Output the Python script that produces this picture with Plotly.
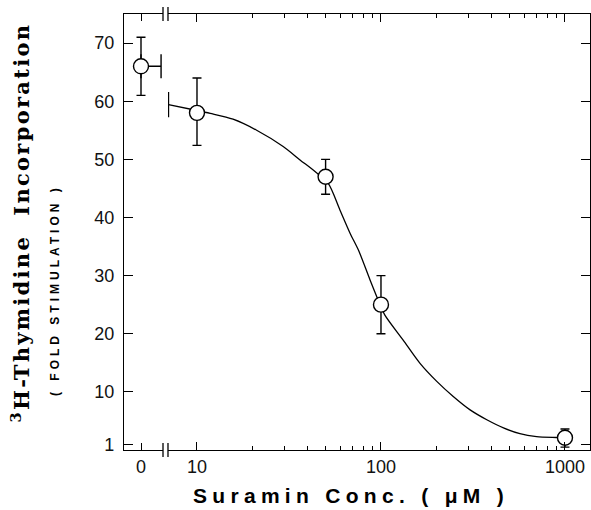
import plotly.graph_objects as go

# ---------------- data ----------------
zero_x = [0]
zero_y = [66]
zero_err = [5]
zero_xerr_plus = [1.18]

conc = [10, 50, 100, 1000]
incorp = [58, 47, 25, 2.1]
err_plus = [6, 3, 5, 1.5]
err_minus = [5.6, 3, 5, 1.6]

curve_x = [7, 10, 11.8, 15.7, 21.1, 29.4, 36.3, 43.8, 51.6, 59.8, 67.9, 75.4, 87.1,
           98.9, 105, 132, 163, 201, 247, 305, 376, 463, 569, 701, 897, 1000]
curve_y = [59.4, 58.4, 57.9, 56.9, 55.0, 52.2, 49.9, 47.9, 45.9, 41.3, 37.3, 34.4, 29.3,
           25.0, 23.2, 18.9, 14.9, 11.8, 9.2, 6.9, 5.2, 3.8, 2.8, 2.3, 2.15, 2.1]

y_ticks = [1, 10, 20, 30, 40, 50, 60, 70]
y_labels = ["1", "10", "20", "30", "40", "50", "60", "70"]
x_zero_ticks = [0]
x_zero_labels = ["0"]
x_major = [10, 100, 1000]
x_major_labels = ["10", "100", "1000"]
x_minor = [20, 30, 40, 50, 60, 70, 80, 90, 200, 300, 400, 500, 600, 700, 800, 900]

# ---------------- figure ----------------
BLK = "black"
tickfont = dict(family="Liberation Sans, Arial, sans-serif", size=18, color="#111")
seg1_end = 0.0837
seg2_start = 0.0944

fig = go.Figure()

# fitted curve
fig.add_trace(go.Scatter(
    x=curve_x, y=curve_y, xaxis="x2", yaxis="y2", mode="lines",
    line=dict(color=BLK, width=1.3, shape="spline", smoothing=0.8),
    hoverinfo="skip", showlegend=False))
# cap at curve start
fig.add_trace(go.Scatter(
    x=curve_x[:1], y=curve_y[:1], xaxis="x2", yaxis="y2", mode="markers",
    marker=dict(symbol="line-ns", size=18, line=dict(color=BLK, width=1.4)),
    hoverinfo="skip", showlegend=False))
# zero-concentration point
fig.add_trace(go.Scatter(
    x=zero_x, y=zero_y, xaxis="x", yaxis="y", mode="markers",
    marker=dict(symbol="circle", size=15, color="white", line=dict(color=BLK, width=1.4)),
    error_y=dict(type="data", array=zero_err, color=BLK, thickness=1.4, width=4.5),
    error_x=dict(type="data", array=zero_xerr_plus, arrayminus=[0], color=BLK, thickness=1.4, width=12),
    showlegend=False))
# suramin points
fig.add_trace(go.Scatter(
    x=conc, y=incorp, xaxis="x2", yaxis="y2", mode="markers",
    marker=dict(symbol="circle", size=15, color="white", line=dict(color=BLK, width=1.4)),
    error_y=dict(type="data", array=err_plus, arrayminus=err_minus, color=BLK, thickness=1.4, width=4.5),
    showlegend=False))

common_axis = dict(showline=True, linecolor=BLK, linewidth=1.3, ticks="inside",
                   tickcolor=BLK, tickwidth=1.3, showgrid=False, zeroline=False,
                   tickfont=tickfont)

fig.update_layout(
    width=591, height=510,
    margin=dict(l=124, r=1, t=14, b=60),
    paper_bgcolor="white", plot_bgcolor="white",
    xaxis=dict(domain=[0, seg1_end], range=[-1, 1.294], anchor="y",
               tickvals=x_zero_ticks, ticktext=x_zero_labels, ticklen=7,
               mirror="ticks", **common_axis),
    xaxis2=dict(domain=[seg2_start, 1], type="log", range=[0.8424, 3.136], anchor="y2",
                tickvals=x_major, ticktext=x_major_labels, ticklen=8,
                minor=dict(tickvals=x_minor, ticks="inside", ticklen=4, tickcolor=BLK, tickwidth=1.2),
                mirror="ticks", **common_axis),
    yaxis=dict(domain=[0, 1], range=[0, 75], anchor="x",
               tickvals=y_ticks, ticktext=y_labels, ticklen=9, ticklabelstandoff=5,
               **common_axis),
    yaxis2=dict(domain=[0, 1], range=[0, 75], anchor="x2", side="right", matches="y",
                tickvals=y_ticks, ticklen=9, showticklabels=False,
                **common_axis),
)

# axis break marks
for xb in (seg1_end, seg2_start):
    for yc in (0, 1):
        fig.add_shape(type="line", xref="paper", yref="paper",
                      x0=xb, x1=xb, y0=yc - 0.016, y1=yc + 0.016,
                      line=dict(color=BLK, width=1.3))

fig.add_annotation(text="<sup>3</sup>H-Thymidine  Incorporation", xref="paper", yref="paper",
                   x=(21 - 124) / 466, y=0.522, textangle=-90, showarrow=False,
                   xanchor="center", yanchor="middle",
                   font=dict(family="DejaVu Serif, serif", size=21, color=BLK, weight="bold"))
fig.add_annotation(text="( FOLD STIMULATION )", xref="paper", yref="paper",
                   x=(55 - 124) / 466, y=0.367, textangle=-90, showarrow=False,
                   xanchor="center", yanchor="middle",
                   font=dict(family="Liberation Sans, Arial, sans-serif", size=12, color=BLK, weight="bold"))
fig.add_annotation(text="Suramin Conc. ( μM )", xref="paper", yref="paper",
                   x=(351 - 124) / 466, y=-(496 - 450) / 436, showarrow=False,
                   xanchor="center", yanchor="middle",
                   font=dict(family="Liberation Sans, Arial, sans-serif", size=21, color=BLK, weight="bold"))

post = """
document.body.style.margin = '0';
document.body.style.padding = '0';
var gd = document.getElementById('{plot_id}');
function spacing(){
  var sp = ['2.3px','4px','5.3px'];
  var a = gd.querySelectorAll('g.annotation text.annotation-text');
  a.forEach(function(e,i){ if (sp[i]) e.style.letterSpacing = sp[i]; });
}
spacing();
gd.on('plotly_afterplot', spacing);
"""

fig.write_html("out.html", post_script=post, config={"displayModeBar": False})
